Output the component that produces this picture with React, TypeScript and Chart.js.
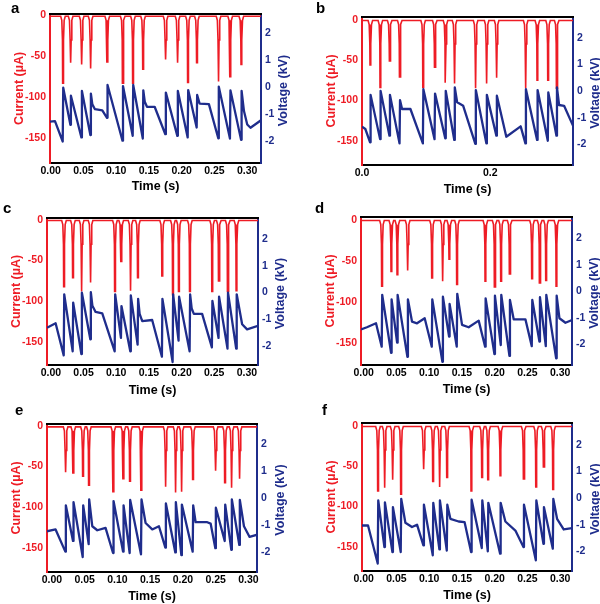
import React, { useEffect, useRef } from 'react';
import { Chart, registerables } from 'chart.js';
Chart.register(...registerables);

const FONT = "'Liberation Sans', Arial, sans-serif";
const RED = '#ee1c25';
const BLUE = '#1f2d8c';

// ---------- panel a ----------
const aSpikeT = [0.0188, 0.0305, 0.0473, 0.061, 0.0864, 0.110, 0.1256, 0.141, 0.1754, 0.1937, 0.2095, 0.2232, 0.2562, 0.274, 0.291];
const aSpikeI = [-83, -58, -60, -65, -57, -83, -83, -66, -54, -58, -82, -58, -81, -75, -60];
const aVoltT = [-0.001, 0.0066, 0.0184, 0.0192, 0.0301, 0.0309, 0.0469, 0.0477, 0.0606, 0.0614, 0.0636, 0.0676, 0.0788, 0.086, 0.0868, 0.1096, 0.1104, 0.1252, 0.126, 0.1406, 0.1414, 0.1436, 0.147, 0.1587, 0.175, 0.1758, 0.1933, 0.1941, 0.2091, 0.2099, 0.2228, 0.2236, 0.2273, 0.2415, 0.2558, 0.2566, 0.2736, 0.2744, 0.2906, 0.2914, 0.295, 0.3, 0.305, 0.321];
const aVoltV = [-1.29, -1.27, -2.03, -0.03, -1.41, -0.33, -1.88, -0.15, -1.79, -0.25, -0.65, -0.83, -0.87, -1.15, 0.07, -2.0, 0.03, -1.82, 0.07, -1.92, -0.13, -0.55, -0.74, -0.74, -1.76, -0.21, -1.82, -0.15, -1.88, -0.12, -1.51, -0.3, -0.62, -0.64, -1.91, 0.01, -1.92, -0.13, -1.97, -0.15, -0.9, -1.4, -1.52, -1.24];

// ---------- panel b ----------
const bSpikeT = [0.013, 0.0286, 0.0432, 0.0589, 0.0953, 0.1135, 0.1302, 0.1443, 0.1771, 0.1943, 0.2099, 0.2552, 0.2734, 0.2901, 0.3036];
const bSpikeI = [-56, -84, -51, -71, -84, -59, -78, -79, -85, -79, -72, -85, -75, -75, -85];
const bVoltT = [0, 0.0052, 0.0126, 0.0134, 0.0282, 0.029, 0.0428, 0.0436, 0.0585, 0.0593, 0.0625, 0.0755, 0.0949, 0.0957, 0.1131, 0.1139, 0.1298, 0.1306, 0.1439, 0.1447, 0.1484, 0.1578, 0.1767, 0.1775, 0.1939, 0.1947, 0.2095, 0.2103, 0.225, 0.2474, 0.2548, 0.2556, 0.273, 0.2738, 0.2897, 0.2905, 0.3032, 0.304, 0.3073, 0.3151, 0.33];
const bVoltV = [-1.33, -1.42, -1.92, -0.14, -1.8, 0.01, -1.67, -0.14, -1.96, -0.34, -0.67, -0.67, -1.96, 0.07, -1.8, -0.09, -1.77, 0.01, -1.83, 0.14, -0.42, -0.55, -1.98, 0.04, -1.96, -0.14, -1.67, -0.17, -1.71, -1.32, -1.96, 0.07, -1.83, 0.04, -1.86, -0.05, -1.67, 0.14, -0.52, -0.55, -1.35];

// ---------- panel c ----------
const cSpikeT = [0.020, 0.0337, 0.047, 0.0607, 0.098, 0.1076, 0.1219, 0.1331, 0.1703, 0.1867, 0.1958, 0.2127, 0.2468, 0.257, 0.2707, 0.284];
const cSpikeI = [-82, -71, -88, -77, -88, -51, -87, -71, -69, -92, -88, -88, -88, -75, -88, -87];
const cVoltT = [-0.006, 0.0072, 0.0196, 0.0204, 0.0333, 0.0341, 0.0466, 0.0474, 0.0603, 0.0611, 0.0635, 0.0684, 0.0786, 0.0976, 0.0984, 0.1072, 0.108, 0.1215, 0.1223, 0.1327, 0.1335, 0.1358, 0.1398, 0.155, 0.1699, 0.1707, 0.1863, 0.1871, 0.1954, 0.1962, 0.2123, 0.2131, 0.2155, 0.2188, 0.2315, 0.2464, 0.2472, 0.2566, 0.2574, 0.2703, 0.2711, 0.2836, 0.2844, 0.2927, 0.3003, 0.317];
const cVoltV = [-1.32, -1.15, -2.35, -0.07, -2.2, -0.38, -2.3, -0.01, -1.75, 0.01, -0.5, -0.73, -0.78, -2.2, -0.07, -1.7, -0.51, -2.2, -0.11, -1.95, -0.24, -0.8, -1.07, -1.03, -2.4, -0.24, -2.6, -0.07, -1.8, -0.16, -2.2, -0.07, -0.6, -0.8, -0.8, -2.05, -0.32, -1.7, -0.16, -2.1, -0.01, -2.1, -0.07, -1.19, -1.38, -1.25];

// ---------- panel d ----------
const dSpikeT = [0.028, 0.0423, 0.0515, 0.0672, 0.1044, 0.1206, 0.1308, 0.1425, 0.1858, 0.2, 0.2097, 0.2229, 0.257, 0.2687, 0.2784, 0.2942];
const dSpikeI = [-81, -63, -67, -62, -71, -75, -48, -79, -75, -82, -75, -66, -72, -77, -74, -81];
const dVoltT = [-0.004, 0.005, 0.0189, 0.0276, 0.0284, 0.0419, 0.0427, 0.0511, 0.0519, 0.0668, 0.0676, 0.0739, 0.0815, 0.0932, 0.104, 0.1048, 0.1202, 0.121, 0.1304, 0.1312, 0.1421, 0.1429, 0.1502, 0.1603, 0.1756, 0.1854, 0.1862, 0.1996, 0.2004, 0.2093, 0.2101, 0.2225, 0.2233, 0.229, 0.2469, 0.2566, 0.2574, 0.2683, 0.2691, 0.278, 0.2788, 0.2938, 0.2946, 0.2988, 0.308, 0.318];
const dVoltV = [-1.43, -1.35, -1.2, -2.08, -0.13, -2.31, -0.3, -1.93, -0.13, -2.46, -0.3, -1.14, -1.2, -1.01, -2.08, -0.3, -2.65, -0.2, -1.7, -0.47, -2.08, -0.09, -1.26, -1.35, -1.1, -2.08, -0.26, -2.36, -0.16, -2.02, -0.13, -2.43, -0.32, -1.05, -1.05, -2.06, -0.32, -1.89, -0.22, -2.06, -0.13, -2.52, -0.16, -1.01, -1.18, -1.08];

// ---------- panel e ----------
const eSpikeT = [0.0208, 0.0325, 0.0473, 0.0564, 0.0936, 0.1089, 0.119, 0.1363, 0.1735, 0.1887, 0.1979, 0.2152, 0.2498, 0.2641, 0.2742, 0.2864];
const eSpikeI = [-57, -58, -62, -73, -81, -65, -68, -79, -75, -82, -81, -66, -55, -70, -76, -65];
const eVoltT = [-0.008, 0.0055, 0.0204, 0.0212, 0.0321, 0.0329, 0.0469, 0.0477, 0.056, 0.0568, 0.0615, 0.0692, 0.0818, 0.0932, 0.094, 0.1085, 0.1093, 0.1186, 0.1194, 0.1359, 0.1367, 0.1429, 0.1531, 0.1633, 0.1731, 0.1739, 0.1883, 0.1891, 0.1975, 0.1983, 0.2148, 0.2156, 0.2193, 0.2371, 0.2422, 0.2494, 0.2502, 0.2637, 0.2645, 0.2738, 0.2746, 0.286, 0.2868, 0.2931, 0.3017, 0.314];
const eVoltV = [-1.24, -1.17, -2.0, -0.27, -1.6, -0.15, -2.2, -0.27, -1.72, -0.05, -1.05, -1.2, -1.11, -2.05, -0.11, -2.0, -0.27, -2.05, -0.07, -2.1, -0.05, -0.93, -1.17, -1.05, -1.85, -0.2, -2.03, -0.15, -2.13, -0.24, -2.0, -0.27, -0.9, -0.9, -0.95, -1.87, -0.36, -1.6, -0.24, -1.93, -0.05, -1.75, -0.07, -1.05, -1.45, -1.36];

// ---------- panel f ----------
const fSpikeT = [0.0219, 0.0321, 0.0443, 0.057, 0.0916, 0.1059, 0.116, 0.1273, 0.1644, 0.1807, 0.1899, 0.2087, 0.2443, 0.2632, 0.2748, 0.2891];
const fSpikeI = [-81, -77, -67, -85, -54, -69, -76, -64, -81, -64, -67, -62, -66, -76, -51, -79];
const fVoltT = [-0.003, 0.0067, 0.0215, 0.0223, 0.0317, 0.0325, 0.0439, 0.0447, 0.0566, 0.0574, 0.0637, 0.0738, 0.0815, 0.0912, 0.092, 0.1055, 0.1063, 0.1156, 0.1164, 0.1269, 0.1277, 0.1324, 0.145, 0.154, 0.164, 0.1648, 0.1803, 0.1811, 0.1895, 0.1903, 0.2083, 0.2091, 0.2163, 0.2316, 0.2439, 0.2447, 0.2628, 0.2636, 0.2744, 0.2752, 0.2887, 0.2895, 0.2952, 0.3053, 0.318];
const fVoltV = [-1.03, -1.03, -2.46, -0.09, -1.84, -0.16, -2.03, -0.34, -2.03, -0.03, -0.93, -1.09, -1.0, -1.78, -0.25, -2.15, -0.18, -1.93, -0.09, -1.97, -0.25, -0.78, -0.88, -0.9, -2.03, -0.06, -1.88, -0.09, -2.0, -0.18, -2.09, -0.18, -0.88, -1.22, -1.84, -0.25, -2.34, -0.09, -1.72, -0.34, -1.9, -0.03, -0.78, -1.18, -1.13];

// tick labels
const timeTicks = ['0.00', '0.05', '0.10', '0.15', '0.20', '0.25', '0.30'];
const timeTicksB = ['0.0', '0.2'];
const currentTicks = [0, -50, -100, -150];
const voltageTicks = [2, 1, 0, -1, -2];

type PanelDef = {
  letter: string; lx: number; ly: number;
  cl: number; ct: number; plotW: number; plotH: number;
  xMin: number; xMax: number; iMin: number; iMax: number; vMin: number; vMax: number;
  spikeT: number[]; spikeI: number[]; voltT: number[]; voltV: number[];
  coarse?: boolean;
};

const panels: PanelDef[] = [
  { letter: 'a', lx: 11, ly: 0, cl: 0, ct: 0, plotW: 211, plotH: 149, xMin: -0.001, xMax: 0.321, iMin: -180.7, iMax: 1.7, vMin: -2.83, vMax: 2.71, spikeT: aSpikeT, spikeI: aSpikeI, voltT: aVoltT, voltV: aVoltV },
  { letter: 'b', lx: 316, ly: 0, cl: 312, ct: 3, plotW: 211, plotH: 148, xMin: 0, xMax: 0.329, iMin: -180, iMax: 3.3, vMin: -2.77, vMax: 2.78, spikeT: bSpikeT, spikeI: bSpikeI, voltT: bVoltT, voltV: bVoltV, coarse: true },
  { letter: 'c', lx: 3, ly: 200, cl: -3, ct: 204, plotW: 211, plotH: 147, xMin: -0.006, xMax: 0.317, iMin: -178, iMax: 2.1, vMin: -2.71, vMax: 2.78, spikeT: cSpikeT, spikeI: cSpikeI, voltT: cVoltT, voltV: cVoltV },
  { letter: 'd', lx: 315, ly: 200, cl: 311, ct: 203, plotW: 211, plotH: 148, xMin: -0.004, xMax: 0.318, iMin: -177, iMax: 3.3, vMin: -2.77, vMax: 2.8, spikeT: dSpikeT, spikeI: dSpikeI, voltT: dVoltT, voltV: dVoltV },
  { letter: 'e', lx: 15, ly: 402, cl: -3, ct: 410, plotW: 210, plotH: 148, xMin: -0.0076, xMax: 0.313, iMin: -180, iMax: 2.5, vMin: -2.76, vMax: 2.77, spikeT: eSpikeT, spikeI: eSpikeI, voltT: eVoltT, voltV: eVoltV },
  { letter: 'f', lx: 322, ly: 402, cl: 312, ct: 409, plotW: 210, plotH: 148, xMin: -0.0025, xMax: 0.318, iMin: -180, iMax: 3.3, vMin: -2.74, vMax: 2.82, spikeT: fSpikeT, spikeI: fSpikeI, voltT: fVoltT, voltV: fVoltV },
];

function currentPoints(ts: number[], is: number[], xMin: number, xMax: number) {
  const pts: { x: number; y: number }[] = [{ x: xMin, y: -1 }];
  ts.forEach((t, i) => {
    const d = is[i];
    pts.push(
      { x: t - 0.0035, y: -1 },
      { x: t - 0.0018, y: -6 },
      { x: t - 0.0008, y: -30 },
      { x: t - 0.0005, y: d },
      { x: t + 0.0005, y: d },
      { x: t + 0.0008, y: -30 },
      { x: t + 0.0018, y: -6 },
      { x: t + 0.0035, y: -1 },
    );
  });
  pts.push({ x: xMax, y: -1 });
  return pts;
}

const framePlugin = {
  id: 'frameTop',
  afterDatasetsDraw(chart: any) {
    const { ctx, chartArea } = chart;
    ctx.save();
    ctx.strokeStyle = '#000';
    ctx.lineWidth = 2;
    ctx.beginPath();
    ctx.moveTo(chartArea.left - 1, chartArea.top);
    ctx.lineTo(chartArea.right + 1, chartArea.top);
    ctx.stroke();
    ctx.restore();
  },
};

const rightTitlePlugin = {
  id: 'rightTitle',
  afterDraw(chart: any) {
    const s = chart.scales.yV;
    const { ctx, chartArea } = chart;
    ctx.save();
    ctx.translate(s.right - 16.5, (chartArea.top + chartArea.bottom) / 2 + 2);
    ctx.rotate(-Math.PI / 2);
    ctx.font = `bold 12.5px ${FONT}`;
    ctx.fillStyle = BLUE;
    ctx.textAlign = 'center';
    ctx.textBaseline = 'middle';
    ctx.fillText('Voltage (kV)', 0, 0);
    ctx.restore();
  },
};

function Panel({ p }: { p: PanelDef }) {
  const ref = useRef<HTMLCanvasElement | null>(null);
  useEffect(() => {
    if (!ref.current) return;
    const tickFont = { family: FONT, size: 10.5, weight: 'bold' as const };
    const titleFont = { family: FONT, size: 12.5, weight: 'bold' as const };
    const xH = 186 - p.plotH;
    const rightW = 250 - p.plotW;
    const chart = new Chart(ref.current, {
      type: 'line',
      data: {
        datasets: [
          {
            data: p.voltT.map((t, i) => ({ x: t, y: p.voltV[i] })),
            yAxisID: 'yV', borderColor: BLUE, borderWidth: 2.3, pointRadius: 0, tension: 0, fill: false,
            borderJoinStyle: 'round',
          },
          {
            data: currentPoints(p.spikeT, p.spikeI, p.xMin, p.xMax),
            yAxisID: 'yI', borderColor: RED, borderWidth: 1.6, pointRadius: 0, tension: 0, fill: false,
          },
        ],
      },
      options: {
        animation: false,
        responsive: false,
        events: [],
        plugins: { legend: { display: false }, tooltip: { enabled: false } },
        layout: { padding: { top: 14, left: 0, right: 0, bottom: 0 } },
        scales: {
          x: {
            type: 'linear', min: p.xMin, max: p.xMax,
            afterFit: (s: any) => { s.height = xH; },
            grid: { display: false, drawTicks: false },
            border: { display: true, color: '#000', width: 2 },
            afterBuildTicks: (s: any) => {
              const labels = p.coarse ? timeTicksB : timeTicks;
              s.ticks = labels.map((l) => ({ value: parseFloat(l), label: l }));
            },
            ticks: {
              autoSkip: false, maxRotation: 0, padding: 2, color: '#000', font: tickFont,
              callback: (v: any) => (p.coarse ? Number(v).toFixed(1) : Number(v).toFixed(2)),
            },
            title: { display: true, text: 'Time (s)', color: '#000', font: titleFont, padding: { top: 0, bottom: 6 } },
          },
          yI: {
            type: 'linear', position: 'left', min: p.iMin, max: p.iMax,
            afterFit: (s: any) => { s.width = 50; },
            grid: { display: false, drawTicks: false },
            border: { display: true, color: RED, width: 2 },
            afterBuildTicks: (s: any) => { s.ticks = currentTicks.map((v) => ({ value: v })); },
            ticks: { padding: 4, color: RED, font: tickFont, callback: (v: any) => String(v) },
            title: { display: true, text: 'Current (\u00b5A)', color: RED, font: titleFont, padding: { top: 12.5, bottom: 0 } },
          },
          yV: {
            type: 'linear', position: 'right', min: p.vMin, max: p.vMax,
            afterFit: (s: any) => { s.width = rightW; },
            grid: { display: false, drawTicks: false },
            border: { display: true, color: BLUE, width: 2 },
            afterBuildTicks: (s: any) => { s.ticks = voltageTicks.map((v) => ({ value: v })); },
            ticks: { padding: 4, color: BLUE, font: tickFont, callback: (v: any) => String(v) },
          },
        },
      } as any,
      plugins: [framePlugin, rightTitlePlugin],
    });
    return () => chart.destroy();
  }, [p]);
  return (
    <canvas
      ref={ref}
      width={300}
      height={200}
      style={{ position: 'absolute', left: p.cl, top: p.ct, width: 300, height: 200 }}
    />
  );
}

export default function App() {
  return (
    <div style={{ position: 'absolute', left: 0, top: 0, width: 600, height: 604, overflow: 'hidden', background: '#fff' }}>
      {panels.map((p) => (
        <Panel key={p.letter} p={p} />
      ))}
      {panels.map((p) => (
        <div
          key={'l' + p.letter}
          style={{
            position: 'absolute', left: p.lx, top: p.ly, fontFamily: FONT, fontWeight: 'bold',
            fontSize: 15, lineHeight: '15px', color: '#000',
          }}
        >
          {p.letter}
        </div>
      ))}
    </div>
  );
}
